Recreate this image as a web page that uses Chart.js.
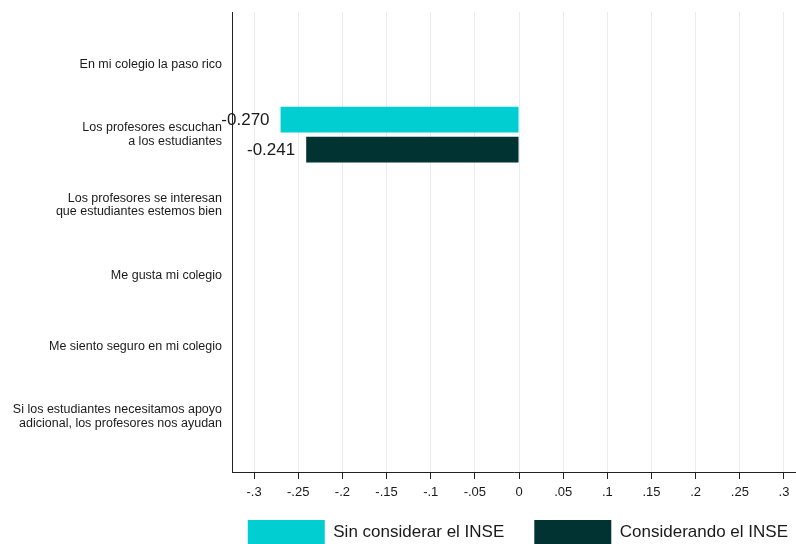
<!DOCTYPE html>
<html>
<head>
<meta charset="utf-8">
<script src="https://cdn.jsdelivr.net/npm/chart.js@4"></script>
<style>
html,body{margin:0;padding:0;background:#fff;}
canvas{display:block;}
</style>
</head>
<body>
<canvas id="c" width="796" height="544"></canvas>
<script>
const categories = [
  ["En mi colegio la paso rico"],
  ["Los profesores escuchan", "a los estudiantes"],
  ["Los profesores se interesan", "que estudiantes estemos bien"],
  ["Me gusta mi colegio"],
  ["Me siento seguro en mi colegio"],
  ["Si los estudiantes necesitamos apoyo", "adicional, los profesores nos ayudan"]
];
const seriesNames = ["Sin considerar el INSE", "Considerando el INSE"];
const sinINSE = [null, -0.270, null, null, null, null];
const conINSE = [null, -0.241, null, null, null, null];
const xTicks = [-0.3, -0.25, -0.2, -0.15, -0.1, -0.05, 0, 0.05, 0.1, 0.15, 0.2, 0.25, 0.3];
const xTickLabels = ["-.3", "-.25", "-.2", "-.15", "-.1", "-.05", "0", ".05", ".1", ".15", ".2", ".25", ".3"];

const FONT = "'Liberation Sans', Arial, sans-serif";

function toPoints(arr) {
  return arr.map((v, i) => ({ x: v, y: i }));
}

const valueLabels = {
  id: 'valueLabels',
  afterDatasetsDraw(chart) {
    const ctx = chart.ctx;
    ctx.save();
    ctx.font = "17px " + FONT;
    ctx.fillStyle = "#1a1a1a";
    ctx.textAlign = "right";
    ctx.textBaseline = "middle";
    chart.data.datasets.forEach((ds, di) => {
      const meta = chart.getDatasetMeta(di);
      meta.data.forEach((el, i) => {
        const v = ds.data[i].x;
        if (v === null || v === undefined) return;
        const left = Math.min(el.x, el.base);
        ctx.fillText(v.toFixed(3), left - 11, el.y + 1);
      });
    });
    ctx.restore();
  }
};

const legendShift = {
  id: 'legendShift',
  afterLayout(chart) {
    if (chart.legend) {
      chart.legend.left += 22;
      chart.legend.right += 22;
      chart.legend.top -= 12;
      chart.legend.bottom -= 12;
    }
  }
};

new Chart(document.getElementById('c'), {
  type: 'bar',
  data: {
    datasets: [
      { label: seriesNames[0], data: toPoints(sinINSE), backgroundColor: '#00CED1', borderWidth: 0 },
      { label: seriesNames[1], data: toPoints(conINSE), backgroundColor: '#023333', borderWidth: 0 }
    ]
  },
  options: {
    indexAxis: 'y',
    responsive: false,
    animation: false,
    devicePixelRatio: 1,
    categoryPercentage: 0.85,
    barPercentage: 0.86,
    layout: { padding: { top: 12, right: 0, left: 0, bottom: -22 } },
    scales: {
      y: {
        type: 'linear',
        reverse: true,
        offset: false,
        min: -0.74,
        max: 5.785,
        afterBuildTicks(scale) { scale.ticks = categories.map((_, i) => ({ value: i })); },
        afterFit(scale) { scale.width = 232; scale.paddingTop = 0; scale.paddingBottom = 0; },
        grid: { display: false, drawTicks: false, offset: false },
        border: { display: true, color: '#222', width: 1 },
        ticks: {
          padding: 10,
          color: '#1a1a1a',
          font: { size: 12.5, family: FONT, lineHeight: 1.1 },
          callback: (v) => categories[v] || ''
        }
      },
      x: {
        type: 'linear',
        min: -0.325,
        max: 0.3136,
        afterBuildTicks(scale) { scale.ticks = xTicks.map(v => ({ value: v })); },
        afterFit(scale) { scale.height = 30; },
        grid: { color: '#e6eef2', lineWidth: 1, tickColor: '#222', tickLength: 7, drawTicks: true },
        border: { display: true, color: '#222', width: 1 },
        ticks: {
          padding: 6,
          color: '#1a1a1a',
          maxRotation: 0,
          autoSkip: false,
          font: { size: 13, family: FONT },
          callback: (v) => { const i = xTicks.findIndex(t => Math.abs(t - v) < 1e-9); return i >= 0 ? xTickLabels[i] : ''; }
        }
      }
    },
    plugins: {
      legend: {
        position: 'bottom',
        align: 'end',
        labels: {
          boxWidth: 77,
          boxHeight: 24,
          padding: 30,
          color: '#1a1a1a',
          font: { size: 17, family: FONT }
        }
      },
      tooltip: { enabled: false }
    }
  },
  plugins: [valueLabels, legendShift]
});
</script>
</body>
</html>
